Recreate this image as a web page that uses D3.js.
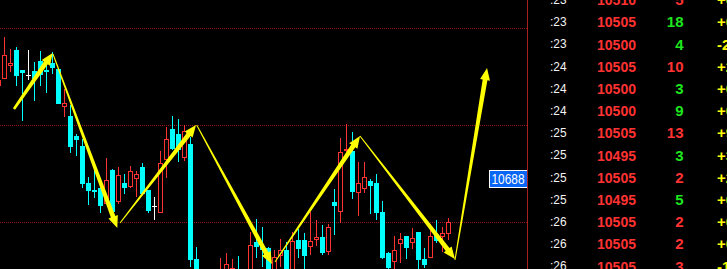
<!DOCTYPE html>
<html>
<head>
<meta charset="utf-8">
<script src="https://d3js.org/d3.v7.min.js"></script>
<style>
  body { margin: 0; background: #000; overflow: hidden; }
  svg { display: block; }
</style>
</head>
<body>
<script>
// size
let width = 727
let height = 269
let plotRight = 527.5

// candles, the first one sits half off the left edge (index -1)
let opens  = [10781, 10788, 10801, 10817, 10797, 10792, 10796, 10806, 10797, 10804, 10798, 10760, 10751, 10731, 10721, 10684, 10677, 10679, 10663, 10697, 10665, 10684, 10680, 10688, 10700, 10677, 10661, 10654, 10707, 10738, 10733, 10709, 10723, 10608, 10582, 10567, 10579, 10582, 10587, 10587, 10595, 10582, 10592, 10625, 10621, 10619, 10592, 10611, 10617, 10592, 10627, 10627, 10620, 10627, 10630, 10615, 10665, 10655, 10716, 10716, 10674, 10678, 10686, 10684, 10655, 10614, 10605, 10623, 10631, 10624, 10635, 10608, 10609, 10632, 10630, 10633]
let highs  = [10789, 10830, 10818, 10820, 10797, 10817, 10805, 10816, 10807, 10815, 10798, 10778, 10762, 10733, 10728, 10690, 10700, 10683, 10709, 10698, 10700, 10693, 10701, 10696, 10704, 10677, 10670, 10716, 10740, 10751, 10748, 10742, 10730, 10620, 10589, 10585, 10591, 10609, 10614, 10608, 10611, 10597, 10635, 10648, 10640, 10620, 10617, 10628, 10625, 10635, 10638, 10634, 10655, 10647, 10642, 10643, 10678, 10729, 10743, 10735, 10705, 10705, 10688, 10693, 10666, 10615, 10631, 10634, 10631, 10639, 10635, 10619, 10643, 10647, 10640, 10649]
let lows   = [10779, 10788, 10795, 10781, 10746, 10787, 10766, 10781, 10774, 10793, 10763, 10750, 10714, 10711, 10679, 10662, 10669, 10654, 10663, 10652, 10663, 10673, 10679, 10670, 10673, 10654, 10647, 10654, 10689, 10717, 10705, 10706, 10600, 10572, 10562, 10562, 10567, 10577, 10582, 10583, 10577, 10577, 10587, 10609, 10600, 10587, 10587, 10600, 10587, 10587, 10609, 10598, 10612, 10621, 10612, 10612, 10632, 10644, 10715, 10668, 10651, 10674, 10653, 10647, 10608, 10597, 10597, 10604, 10608, 10618, 10595, 10599, 10609, 10624, 10615, 10627]
let closes = [10787, 10812, 10804, 10791, 10794, 10792, 10788, 10792, 10795, 10799, 10763, 10764, 10720, 10727, 10683, 10676, 10675, 10661, 10687, 10655, 10692, 10679, 10696, 10693, 10673, 10656, 10661, 10704, 10728, 10718, 10717, 10736, 10607, 10577, 10567, 10577, 10571, 10597, 10603, 10599, 10582, 10592, 10622, 10620, 10617, 10592, 10610, 10617, 10592, 10626, 10618, 10611, 10626, 10630, 10614, 10640, 10661, 10715, 10718, 10675, 10684, 10690, 10681, 10654, 10609, 10599, 10617, 10628, 10619, 10629, 10607, 10602, 10631, 10626, 10634, 10645]

// yellow arrows drawn on the chart: [candle index, price]
let arrowFrom = [[1.58, 10758], [8.08, 10813], [19.25, 10644], [32.03, 10742], [45.08, 10605], [59.25, 10731], [75.08, 10607]]
let arrowTo   = [[8.03, 10814], [18.8, 10639], [31.92, 10742], [44.58, 10603], [59.25, 10731], [75.08, 10608], [80.42, 10799]]
let arrowTail = [2.6, 1, 1, 1, 1, 1, 1]

// guide lines and price tag
let gridPrices = [10839, 10742, 10645]
let tagPrice = 10688

// tick list on the right
let tickTimes   = [":23", ":23", ":23", ":24", ":24", ":24", ":25", ":25", ":25", ":25", ":26", ":26", ":26"]
let tickPrices  = ["10510", "10505", "10500", "10505", "10500", "10500", "10505", "10495", "10505", "10495", "10505", "10505", "10505"]
let tickVolumes = ["5", "18", "4", "10", "3", "9", "13", "3", "2", "5", "2", "2", "3"]
let tickSides   = ["B", "S", "S", "B", "S", "S", "B", "S", "B", "S", "B", "B", "B"]
let tickChanges = ["+0", "+0", "-2", "+2", "+0", "+0", "+9", "+3", "+2", "+0", "+0", "+0", "-1"]

let red = "#ff3232"
let cyan = "#00ffff"
let font = "'Liberation Sans', Arial, sans-serif"

// scales
let x = d3.scaleLinear().domain([0, 1]).range([4.5, 10.5])
let y = d3.scaleLinear().domain([10645, 10839]).range([222, 28])
let row = d3.scaleLinear().domain([0, 12]).range([-0.2, 266.2])

let svg = d3.select("body")
  .append("svg")
  .attr("width", width)
  .attr("height", height)

svg.append("rect")
  .attr("width", width)
  .attr("height", height)
  .attr("fill", "#000")

// dotted guide lines
svg.selectAll(".grid")
  .data(gridPrices)
  .enter()
  .append("line")
  .attr("class", "grid")
  .attr("x1", 0)
  .attr("x2", plotRight)
  .attr("y1", d => Math.round(y(d)) + 0.5)
  .attr("y2", d => Math.round(y(d)) + 0.5)
  .attr("stroke", "#961414")
  .attr("stroke-dasharray", "1,1")

// candles
let candles = opens.map((o, i) => ({idx: i - 1, o: o, h: highs[i], l: lows[i], c: closes[i]}))

let plot = svg.append("g")

let g = plot.selectAll(".candle")
  .data(candles)
  .enter()
  .append("g")
  .attr("class", "candle")

g.each(function(d) {
  let el = d3.select(this)
  let cx = x(d.idx)
  let top = Math.round(y(Math.max(d.o, d.c)))
  let bot = Math.round(y(Math.min(d.o, d.c)))
  let hi = Math.round(y(d.h))
  let lo = Math.round(y(d.l))

  if (d.o === d.c) {
    // doji: white cross
    el.append("line").attr("x1", cx).attr("x2", cx).attr("y1", hi).attr("y2", lo)
      .attr("stroke", "#fff")
    el.append("line").attr("x1", cx - 2.5).attr("x2", cx + 2.5).attr("y1", top + 0.5).attr("y2", top + 0.5)
      .attr("stroke", "#fff")
  } else if (d.c > d.o) {
    // up: hollow red
    el.append("line").attr("x1", cx).attr("x2", cx).attr("y1", hi).attr("y2", top)
      .attr("stroke", red)
    el.append("line").attr("x1", cx).attr("x2", cx).attr("y1", bot).attr("y2", lo)
      .attr("stroke", red)
    el.append("rect")
      .attr("x", cx - 2)
      .attr("y", top + 0.5)
      .attr("width", 4)
      .attr("height", Math.max(bot - top - 1, 1))
      .attr("fill", "#000")
      .attr("stroke", red)
  } else {
    // down: filled cyan
    el.append("line").attr("x1", cx).attr("x2", cx).attr("y1", hi).attr("y2", lo)
      .attr("stroke", cyan)
    el.append("rect")
      .attr("x", cx - 2.5)
      .attr("y", top)
      .attr("width", 5)
      .attr("height", Math.max(bot - top, 1))
      .attr("fill", cyan)
  }
})

// arrows: thin tail widening towards the head
function arrowPath(p0, p1, w0) {
  let x0 = x(p0[0]), y0 = y(p0[1]), x1 = x(p1[0]), y1 = y(p1[1])
  let len = Math.hypot(x1 - x0, y1 - y0)
  let ux = (x1 - x0) / len, uy = (y1 - y0) / len
  let nx = -uy, ny = ux
  let headLen = 12, headHalf = 5, neck = 2.4
  let bx = x1 - ux * headLen, by = y1 - uy * headLen
  let pts = [
    [x0 + nx * w0 / 2, y0 + ny * w0 / 2],
    [bx + nx * neck, by + ny * neck],
    [bx + nx * headHalf, by + ny * headHalf],
    [x1, y1],
    [bx - nx * headHalf, by - ny * headHalf],
    [bx - nx * neck, by - ny * neck],
    [x0 - nx * w0 / 2, y0 - ny * w0 / 2]
  ]
  return "M" + pts.map(p => p.join(",")).join("L") + "Z"
}

svg.selectAll(".arrow")
  .data(arrowFrom)
  .enter()
  .append("path")
  .attr("class", "arrow")
  .attr("d", (d, i) => arrowPath(d, arrowTo[i], arrowTail[i]))
  .attr("fill", "#ffff00")

// price tag
let tagY = y(tagPrice)
svg.append("rect")
  .attr("x", 489.5)
  .attr("y", Math.round(tagY) - 8.5)
  .attr("width", 38)
  .attr("height", 17)
  .attr("fill", "#0a66f5")
  .attr("stroke", "#fff")
svg.append("text")
  .attr("x", 491.5)
  .attr("y", Math.round(tagY) + 5)
  .attr("textLength", 33)
  .attr("lengthAdjust", "spacingAndGlyphs")
  .attr("font-family", font)
  .attr("font-size", 15)
  .attr("fill", "#fff")
  .text(tagPrice)

// divider
svg.append("line")
  .attr("x1", plotRight)
  .attr("x2", plotRight)
  .attr("y1", 0)
  .attr("y2", height)
  .attr("stroke", "#a82020")

// tick list
let rows = svg.selectAll(".tick-row")
  .data(tickTimes)
  .enter()
  .append("g")
  .attr("class", "tick-row")
  .attr("transform", (d, i) => "translate(0," + row(i) + ")")

rows.append("text")
  .attr("x", 550)
  .attr("y", 4.2)
  .attr("textLength", 16.5)
  .attr("lengthAdjust", "spacingAndGlyphs")
  .attr("font-family", font)
  .attr("font-size", 12)
  .attr("fill", "#f4f4f4")
  .text(d => d)

rows.append("text")
  .attr("x", 597)
  .attr("y", 5.4)
  .attr("textLength", 39)
  .attr("lengthAdjust", "spacingAndGlyphs")
  .attr("font-family", font)
  .attr("font-size", 15)
  .attr("font-weight", "bold")
  .attr("fill", red)
  .text((d, i) => tickPrices[i])

rows.append("text")
  .attr("x", 683.5)
  .attr("y", 5.4)
  .attr("text-anchor", "end")
  .attr("font-family", font)
  .attr("font-size", 15)
  .attr("font-weight", "bold")
  .attr("fill", (d, i) => tickSides[i] === "B" ? red : "#1ee61e")
  .text((d, i) => tickVolumes[i])

rows.append("text")
  .attr("x", 717)
  .attr("y", 5.4)
  .attr("font-family", font)
  .attr("font-size", 15)
  .attr("font-weight", "bold")
  .attr("fill", "#ffff00")
  .text((d, i) => tickChanges[i])
</script>
</body>
</html>
